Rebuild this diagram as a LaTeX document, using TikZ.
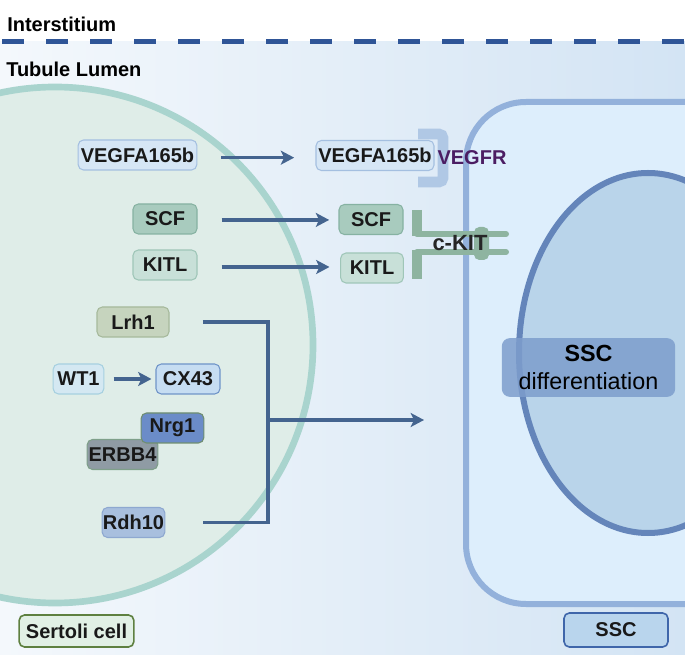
\documentclass[tikz,border=0pt]{standalone}
\usepackage{fontspec}
\setmainfont{Liberation Sans}
\usepackage{xcolor}
\usepackage{tikz}
\usetikzlibrary{shapes,positioning,calc,arrows.meta}

\definecolor{lumenleft}{HTML}{F4F8FC}
\definecolor{lumenright}{HTML}{D3E4F4}
\definecolor{dashblue}{HTML}{2F5597}
\definecolor{sertoliring}{HTML}{A9D4CE}
\definecolor{sertolifill}{HTML}{DFEDE8}
\definecolor{sscring}{HTML}{93B1DB}
\definecolor{sscfill}{HTML}{DDEEFC}
\definecolor{nucring}{HTML}{6485BA}
\definecolor{nucfill}{HTML}{B9D4EA}
\definecolor{diffblue}{HTML}{7D9DCC}
\definecolor{linkblue}{HTML}{44648F}
\definecolor{vegfrcol}{HTML}{B0C8E5}
\definecolor{vegfrtext}{HTML}{4B1D63}
\definecolor{kitcol}{HTML}{8EB4A0}

\begin{document}
\begin{tikzpicture}[x=0.75pt, y=-0.75pt,
    box/.style={draw, rounded corners=4pt, line width=0.8pt, inner sep=0pt,
        minimum height=22.5pt, font=\bfseries\fontsize{15}{17}\selectfont, text=black!90},
    lab/.style={font=\bfseries\fontsize{15}{17}\selectfont, inner sep=0pt},
    link/.style={draw=linkblue, line width=2.4pt},
    tip/.style={-{Stealth[length=10pt, width=10.5pt, inset=2.5pt]}}]
    \useasboundingbox (0,0) rectangle (685,655);
    \clip (0,0) rectangle (685,655);

    % Interstitium and tubule lumen
    \fill[white] (0,0) rectangle (685,42);
    \shade[left color=lumenleft, right color=lumenright] (0,42) rectangle (685,655);
    \draw[dashblue, line width=3.75pt, dash pattern=on 16.5pt off 16.5pt, dash phase=-1.5pt] (0,42) -- (685,42);
    \node[lab, anchor=west] (inter) at (7,24) {Interstitium};
    \node[lab, anchor=west] (lumen) at (6,69) {Tubule Lumen};

    % Sertoli cell
    \draw[line width=5pt, draw=sertoliring, fill=sertolifill] (55,345) circle [radius=258];

    % SSC with nucleus
    \draw[line width=4.5pt, draw=sscring, fill=sscfill, rounded corners=45pt] (466,102) rectangle (800,604);
    \draw[line width=4.5pt, draw=nucring, fill=nucfill] (648,353) ellipse [x radius=129, y radius=180];
    \node[fill=diffblue, fill opacity=0.85, text opacity=1, rounded corners=6pt, inner sep=0pt,
        minimum width=130pt, minimum height=44pt, align=center,
        font=\fontsize{17.5}{21}\selectfont] (diff) at (588.5,367.5) {{\bfseries SSC}\\differentiation};

    % Receptors
    \draw[vegfrcol, line width=8pt, rounded corners=3pt] (418,134) -- (443,134) -- (443,182) -- (418,182);
    \draw[kitcol, line width=4.5pt, line cap=round] (417,234) -- (506,234);
    \draw[kitcol, line width=4.5pt, line cap=round] (506,252) -- (417,252);
    \draw[kitcol, line width=7pt, rounded corners=2pt] (417,210) -- (417,236);
    \draw[kitcol, line width=7pt, rounded corners=2pt] (417,250) -- (417,279);
    \fill[kitcol, rounded corners=4pt] (474,227) rectangle (489,260);
    \node[lab, text=vegfrtext] (vegfrlab) at (472,158) {VEGFR};
    \node[lab, font=\bfseries\fontsize{16.5}{18}\selectfont, text=black!85] (kitlab) at (460,243) {c-KIT};

    % Ligands
    \node[box, fill={rgb,255:red,214;green,230;blue,245}, draw={rgb,255:red,164;green,191;blue,224}, minimum width=89pt] (vegfL) at (137.5,155) {VEGFA165b};
    \node[box, fill={rgb,255:red,214;green,230;blue,245}, draw={rgb,255:red,164;green,191;blue,224}, minimum width=88.5pt] (vegfR) at (375,155.5) {VEGFA165b};
    \node[box, fill={rgb,255:red,168;green,203;blue,190}, draw={rgb,255:red,134;green,178;blue,162}, minimum width=48pt] (scfL) at (165,219) {SCF};
    \node[box, fill={rgb,255:red,168;green,203;blue,190}, draw={rgb,255:red,134;green,178;blue,162}, minimum width=48pt] (scfR) at (371,219.5) {SCF};
    \node[box, fill={rgb,255:red,200;green,224;blue,216}, draw={rgb,255:red,159;green,198;blue,184}, minimum width=48pt] (kitlL) at (165,265) {KITL};
    \node[box, fill={rgb,255:red,200;green,224;blue,216}, draw={rgb,255:red,159;green,198;blue,184}, minimum width=47pt] (kitlR) at (372,268) {KITL};

    % Sertoli factors
    \node[box, fill={rgb,255:red,198;green,212;blue,190}, draw={rgb,255:red,166;green,185;blue,155}, minimum width=54pt] (lrh1) at (133,322) {Lrh1};
    \node[box, fill={rgb,255:red,212;green,232;blue,242}, draw={rgb,255:red,166;green,208;blue,224}, minimum width=38pt] (wt1) at (78.5,379) {WT1};
    \node[box, fill={rgb,255:red,198;green,221;blue,242}, draw={rgb,255:red,111;green,148;blue,200}, minimum width=48pt] (cx43) at (188,379) {CX43};
    \node[box, fill={rgb,255:red,143;green,155;blue,164}, draw={rgb,255:red,127;green,160;blue,138}, minimum width=53pt] (erbb4) at (122.5,454.5) {ERBB4};
    \node[box, fill={rgb,255:red,107;green,140;blue,200}, draw={rgb,255:red,111;green,142;blue,112}, minimum width=47pt] (nrg1) at (172.5,428) {Nrg1};
    \node[box, fill={rgb,255:red,168;green,191;blue,222}, draw={rgb,255:red,142;green,168;blue,208}, minimum width=47pt] (rdh10) at (133.5,522.5) {Rdh10};

    % Signalling
    \draw[link, tip, shorten <=18pt, shorten >=16pt] ([yshift=-2pt]vegfL.east) -- ([yshift=-2pt]vegfL.east -| vegfR.west);
    \draw[link, tip, shorten <=18pt, shorten >=7pt] ([yshift=-0.7pt]scfL.east) -- ([yshift=-0.7pt]scfL.east -| scfR.west);
    \draw[link, tip, shorten <=18pt, shorten >=8pt] ([yshift=-1.5pt]kitlL.east) -- ([yshift=-1.5pt]kitlL.east -| kitlR.west);
    \draw[link, tip, shorten <=7pt, shorten >=3pt] (wt1.east) -- (cx43.west);
    \coordinate (join) at (268,420);
    \coordinate (sscin) at (424,420);
    \draw[link, shorten <=25pt, shorten >=28pt] (lrh1.east) -| (join) |- (rdh10.east);
    \draw[link, tip] (join) -- (sscin);

    % Legend
    \node[box, fill={rgb,255:red,225;green,240;blue,229}, draw={rgb,255:red,94;green,128;blue,64}, line width=1.2pt, minimum width=86pt, minimum height=24pt] (sertoli) at (76.5,631) {Sertoli cell};
    \node[box, fill={rgb,255:red,185;green,213;blue,237}, draw={rgb,255:red,63;green,102;blue,170}, line width=1.2pt, minimum width=78pt, minimum height=25.5pt] (ssc) at (616,630) {SSC};
\end{tikzpicture}
\end{document}
